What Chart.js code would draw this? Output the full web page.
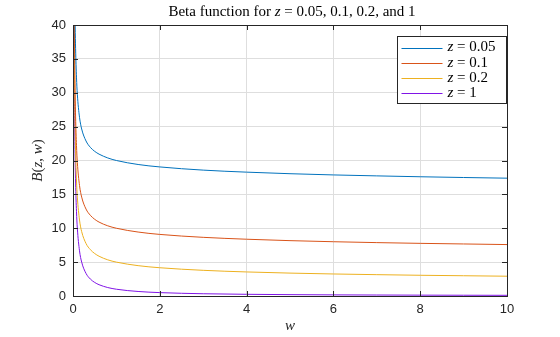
<!DOCTYPE html>
<html>
<head>
<meta charset="utf-8">
<script src="https://cdn.jsdelivr.net/npm/chart.js@4"></script>
<style>
  html, body { margin: 0; padding: 0; background: #fff; }
  #wrap { width: 560px; height: 337px; }
</style>
</head>
<body>
<div id="wrap"><canvas id="betaChart" width="560" height="337"></canvas></div>
<script>
// B(z,w) sampled along w for four values of z
const wVals = [0.02, 0.03, 0.04, 0.05, 0.06, 0.08, 0.1, 0.15, 0.2, 0.3, 0.4, 0.5, 0.6, 0.8,
               1, 1.5, 2, 3, 4, 5, 6, 7, 8, 9, 10];
const bZ005 = [69.9, 53.2, 44.86, 39.85, 36.5, 32.31, 29.78, 26.38, 24.65, 22.88, 21.94, 21.35, 20.94, 20.38,
               20.0, 19.41, 19.05, 18.58, 18.28, 18.05, 17.87, 17.73, 17.6, 17.49, 17.39];
const bZ01  = [59.8, 43.14, 34.79, 29.78, 26.43, 22.24, 19.71, 16.32, 14.6, 12.83, 11.91, 11.32, 10.91, 10.36,
               10.0, 9.44, 9.09, 8.66, 8.38, 8.17, 8.01, 7.88, 7.77, 7.68, 7.59];
const bZ02  = [54.69, 38.01, 29.66, 24.65, 21.31, 17.12, 14.6, 11.22, 9.5, 7.75, 6.84, 6.27, 5.87, 5.34,
               5.0, 4.48, 4.17, 3.79, 3.55, 3.38, 3.25, 3.15, 3.06, 2.99, 2.92];
const bZ1   = [50, 33.33, 25, 20, 16.67, 12.5, 10, 6.667, 5, 3.333, 2.5, 2, 1.667, 1.25,
               1, 0.667, 0.5, 0.333, 0.25, 0.2, 0.167, 0.143, 0.125, 0.111, 0.1];

const zLabels = ["0.05", "0.1", "0.2", "1"];
const colors  = ["#0072BD", "#D95319", "#EDB120", "#8014E6"];
const xTicks  = [0, 2, 4, 6, 8, 10];
const yTicks  = [0, 5, 10, 15, 20, 25, 30, 35, 40];

const SERIF = "'Liberation Serif', 'DejaVu Serif', serif";
const SANS  = "'Liberation Sans', Arial, sans-serif";
const INK   = "#262626";

// draw a line of text made of [text, italic] pieces
function drawRuns(ctx, runs, x, y, size, align) {
  let total = 0;
  runs.forEach(r => {
    ctx.font = (r[1] ? "italic " : "") + size + "px " + SERIF;
    total += ctx.measureText(r[0]).width;
  });
  let cx = align === "center" ? x - total / 2 : x;
  runs.forEach(r => {
    ctx.font = (r[1] ? "italic " : "") + size + "px " + SERIF;
    ctx.fillText(r[0], cx, y);
    cx += ctx.measureText(r[0]).width;
  });
}

const frame = {
  id: "frame",
  afterDatasetsDraw(chart) {
    const ctx = chart.ctx;
    const a = chart.chartArea;
    const xs = chart.scales.x, ys = chart.scales.y;
    ctx.save();
    ctx.strokeStyle = INK;
    ctx.lineWidth = 1;
    ctx.strokeRect(Math.round(a.left) + 0.5, Math.round(a.top) + 0.5,
                   Math.round(a.right - a.left), Math.round(a.bottom - a.top));
    // inward tick marks on all four sides
    ctx.beginPath();
    xTicks.forEach(v => {
      const px = Math.round(xs.getPixelForValue(v)) + 0.5;
      ctx.moveTo(px, a.bottom); ctx.lineTo(px, a.bottom - 5);
      ctx.moveTo(px, a.top);    ctx.lineTo(px, a.top + 5);
    });
    yTicks.forEach(v => {
      const py = Math.round(ys.getPixelForValue(v)) + 0.5;
      ctx.moveTo(a.left, py);  ctx.lineTo(a.left + 5, py);
      ctx.moveTo(a.right, py); ctx.lineTo(a.right - 5, py);
    });
    ctx.stroke();

    // title and axis labels
    ctx.fillStyle = "#000";
    ctx.textBaseline = "middle";
    drawRuns(ctx, [["Beta function for ", false], ["z", true], [" = 0.05, 0.1, 0.2, and 1", false]],
             (a.left + a.right) / 2 + 2, 12, 15, "center");
    ctx.fillStyle = INK;
    drawRuns(ctx, [["w", true]], (a.left + a.right) / 2, 326, 15, "center");
    ctx.save();
    ctx.translate(38, (a.top + a.bottom) / 2);
    ctx.rotate(-Math.PI / 2);
    drawRuns(ctx, [["B", true], ["(", false], ["z", true], [", ", false], ["w", true], [")", false]],
             0, 0, 15, "center");
    ctx.restore();

    // legend
    const lx = 397.5, ly = 36.5, lw = 109, lh = 67;
    ctx.fillStyle = "#fff";
    ctx.fillRect(lx, ly, lw, lh);
    ctx.strokeStyle = INK;
    ctx.strokeRect(lx, ly, lw, lh);
    zLabels.forEach((lab, i) => {
      const yy = ly + 11 + i * 15.3;
      ctx.strokeStyle = colors[i];
      ctx.beginPath();
      ctx.moveTo(lx + 4, Math.round(yy) + 0.5);
      ctx.lineTo(lx + 45, Math.round(yy) + 0.5);
      ctx.stroke();
      ctx.fillStyle = "#000";
      drawRuns(ctx, [["z", true], [" = " + lab, false]], lx + 50, yy, 15, "left");
    });
    ctx.restore();
  }
};

const datasets = [bZ005, bZ01, bZ02, bZ1].map((vals, i) => ({
  label: "z = " + zLabels[i],
  data: wVals.map((w, j) => ({ x: w, y: vals[j] })),
  borderColor: colors[i],
  borderWidth: 1,
  pointRadius: 0,
  fill: false,
  cubicInterpolationMode: "monotone"
}));

new Chart(document.getElementById("betaChart").getContext("2d"), {
  type: "line",
  data: { datasets },
  options: {
    responsive: false,
    animation: false,
    layout: { padding: { top: 25, right: 53, left: 0, bottom: 0 } },
    plugins: { legend: { display: false }, tooltip: { enabled: false } },
    scales: {
      x: {
        type: "linear", min: 0, max: 10,
        afterBuildTicks: s => { s.ticks = xTicks.map(v => ({ value: v })); },
        afterFit: s => { s.height = 41; },
        grid: { color: "#dedede", drawTicks: false },
        border: { display: false },
        ticks: { color: INK, font: { family: SANS, size: 13 }, padding: 6 }
      },
      y: {
        type: "linear", min: 0, max: 40,
        afterBuildTicks: s => { s.ticks = yTicks.map(v => ({ value: v })); },
        afterFit: s => { s.width = 73; },
        grid: { color: "#dedede", drawTicks: false },
        border: { display: false },
        ticks: { color: INK, font: { family: SANS, size: 13 }, padding: 7 }
      }
    }
  },
  plugins: [frame]
});
</script>
</body>
</html>
